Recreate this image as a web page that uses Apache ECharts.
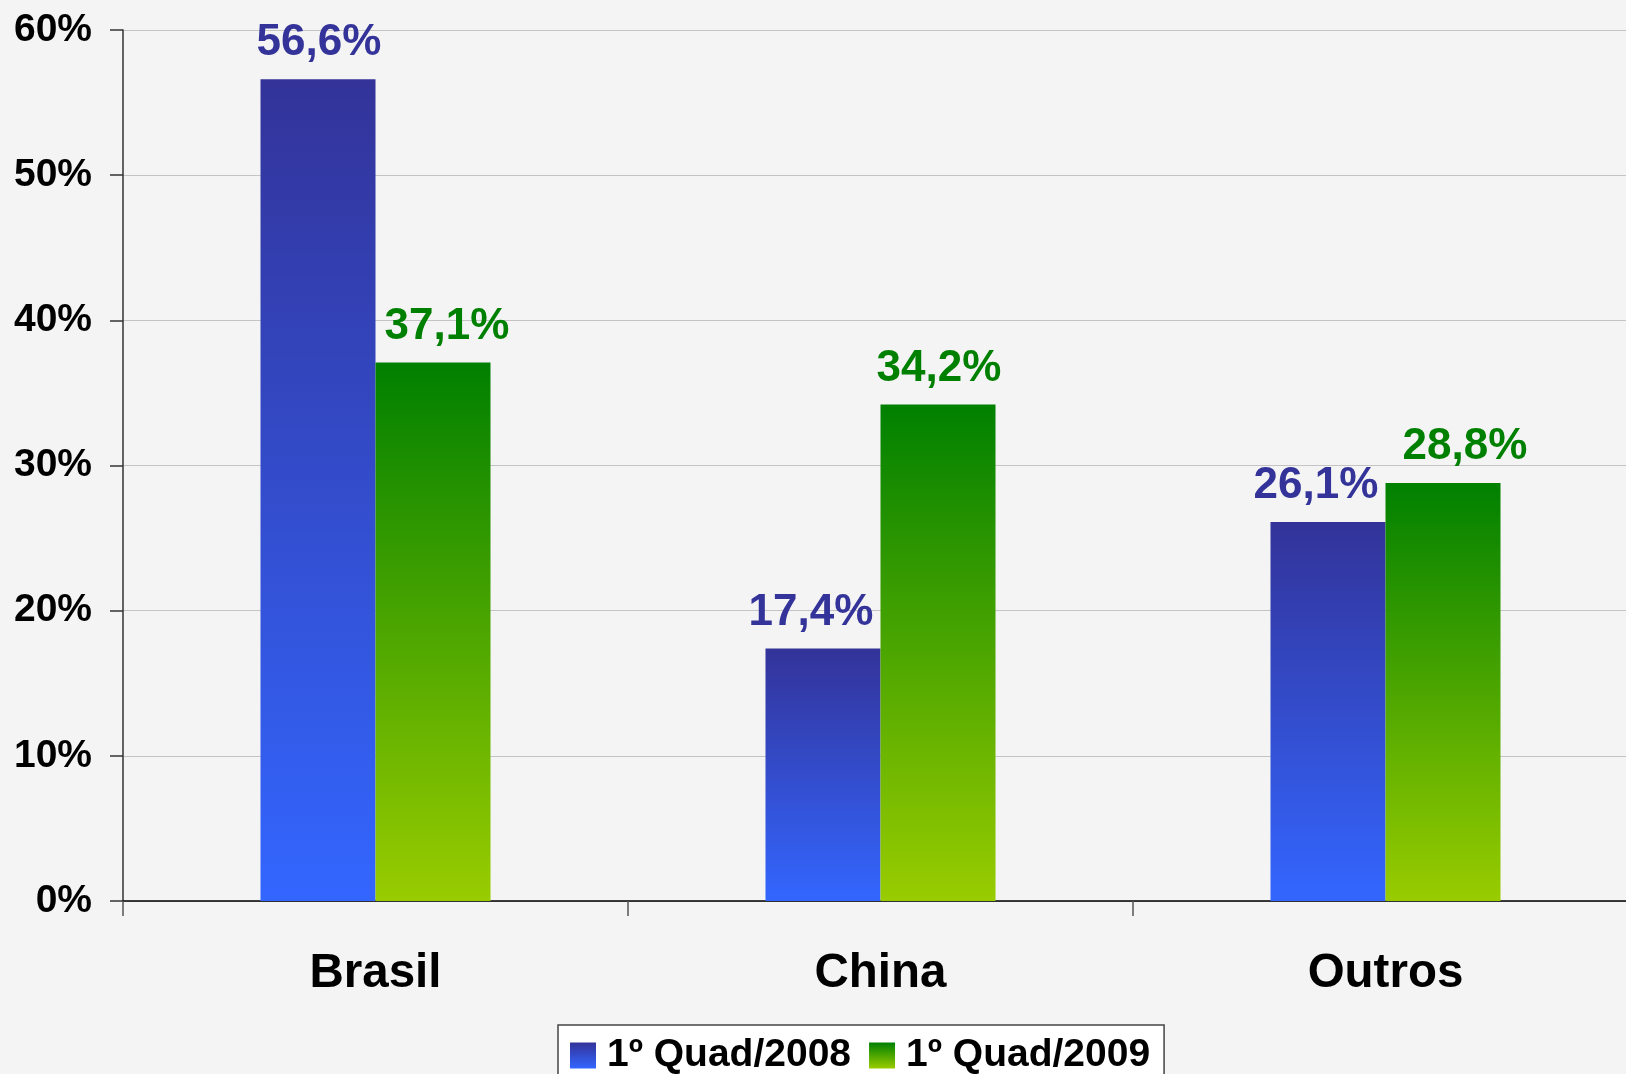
<!DOCTYPE html>
<html>
<head>
<meta charset="utf-8">
<script src="https://cdn.jsdelivr.net/npm/echarts@6/dist/echarts.min.js"></script>
<style>
html,body{margin:0;padding:0;background:#f4f4f4;width:1626px;height:1074px;overflow:hidden;}
#chart{width:1645px;height:1074px;}
</style>
</head>
<body>
<div id="chart"></div>
<script>
const categories = ['Brasil', 'China', 'Outros'];
const seriesNames = ['1º Quad/2008', '1º Quad/2009'];
const values2008 = [56.6, 17.4, 26.1];
const values2009 = [37.1, 34.2, 28.8];
const yTicks = [0, 10, 20, 30, 40, 50, 60];

const FONT = '"Liberation Sans", Arial, sans-serif';
const fmt = v => v.toFixed(1).replace('.', ',') + '%';

function grad(top, bottom) {
  return new echarts.graphic.LinearGradient(0, 0, 0, 1, [
    { offset: 0, color: top },
    { offset: 1, color: bottom }
  ]);
}

// small manual label nudges (as in the original slide)
const nudge2008 = [1, -12, -12];
const nudge2009 = [14, 1, 22];

function withNudge(values, nudges) {
  return values.map((v, i) => ({ value: v, label: { offset: [nudges[i], 0] } }));
}

const chart = echarts.init(document.getElementById('chart'), null, { renderer: 'canvas' });
chart.setOption({
  backgroundColor: '#f4f4f4',
  animation: false,
  grid: { left: 123, top: 30, width: 1515, height: 871, containLabel: false },
  legend: {
    data: seriesNames,
    left: 558,
    top: 1025,
    padding: [11, 14, 10, 12],
    backgroundColor: '#ffffff',
    borderColor: '#444444',
    borderWidth: 1.5,
    borderRadius: 0,
    itemWidth: 26,
    itemHeight: 26,
    itemGap: 18,
    icon: 'rect',
    textStyle: { fontFamily: FONT, fontWeight: 'bold', fontSize: 39, color: '#000', padding: [0, 0, 0, 6] }
  },
  xAxis: {
    type: 'category',
    data: categories,
    axisLine: { lineStyle: { color: '#000', width: 1.5 } },
    axisTick: { show: true, length: 15, lineStyle: { color: '#555', width: 1.5 } },
    axisLabel: { margin: 49, fontFamily: FONT, fontWeight: 'bold', fontSize: 47.5, color: '#000' },
    splitLine: { show: false }
  },
  yAxis: {
    type: 'value',
    min: yTicks[0],
    max: yTicks[yTicks.length - 1],
    interval: 10,
    axisLine: { show: true, lineStyle: { color: '#333', width: 1.5 } },
    axisTick: { show: true, length: 13, lineStyle: { color: '#333', width: 1.5 } },
    axisLabel: { margin: 31, fontFamily: FONT, fontWeight: 'bold', fontSize: 39, color: '#000', formatter: '{value}%' },
    splitLine: { lineStyle: { color: '#c4c4c4', width: 1.2 } }
  },
  series: [
    {
      name: seriesNames[0],
      type: 'bar',
      data: withNudge(values2008, nudge2008),
      barWidth: 115,
      barGap: '0%',
      itemStyle: { color: grad('#333399', '#3366ff') },
      label: {
        show: true, position: 'top', distance: 14,
        fontFamily: FONT, fontWeight: 'bold', fontSize: 44, color: '#333399',
        formatter: p => fmt(p.value)
      }
    },
    {
      name: seriesNames[1],
      type: 'bar',
      data: withNudge(values2009, nudge2009),
      barWidth: 115,
      barGap: '0%',
      itemStyle: { color: grad('#008000', '#99cc00') },
      label: {
        show: true, position: 'top', distance: 14,
        fontFamily: FONT, fontWeight: 'bold', fontSize: 44, color: '#008000',
        formatter: p => fmt(p.value)
      }
    }
  ]
});
</script>
</body>
</html>
